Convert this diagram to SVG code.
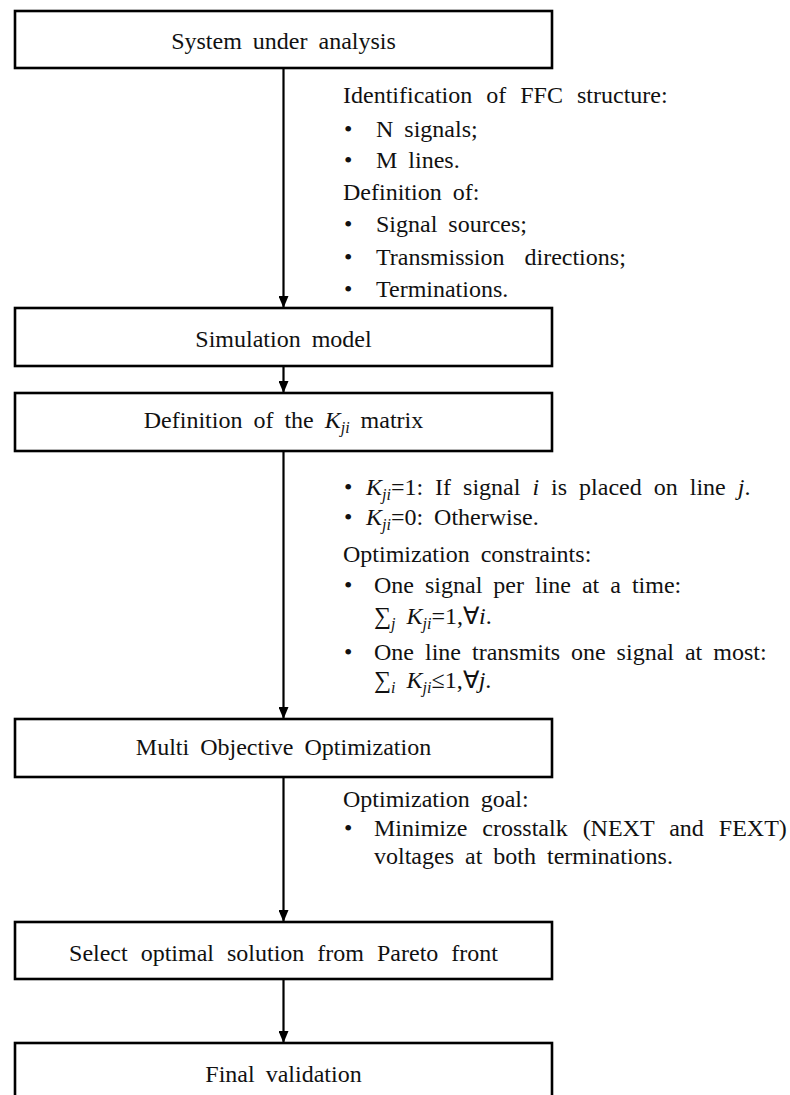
<svg xmlns="http://www.w3.org/2000/svg" width="790" height="1095" viewBox="0 0 790 1095">
<style>
.box{fill:#fff;stroke:#000;stroke-width:2.6}
.t{font-family:"Liberation Serif","Times New Roman",serif;font-size:24px;fill:#111;word-spacing:5px}
.c{text-anchor:middle}
.i{font-style:italic}
.s{font-size:16px;font-style:italic}
.conn line{stroke:#000;stroke-width:2.2}
</style>
<defs>
<marker id="ah" markerUnits="userSpaceOnUse" markerWidth="12" markerHeight="10" viewBox="0 0 12 10" refX="12" refY="5" orient="auto">
<path d="M0,0 L12,5 L0,10 z" fill="#000"/>
</marker>
</defs>
<rect width="790" height="1095" fill="#fff"/>
<g id="connectors" class="conn">
<line x1="283.5" y1="68" x2="283.5" y2="308" marker-end="url(#ah)"/>
<line x1="283.5" y1="366" x2="283.5" y2="393" marker-end="url(#ah)"/>
<line x1="283.5" y1="451" x2="283.5" y2="719" marker-end="url(#ah)"/>
<line x1="283.5" y1="777" x2="283.5" y2="922" marker-end="url(#ah)"/>
<line x1="283.5" y1="979" x2="283.5" y2="1043" marker-end="url(#ah)"/>
</g>
<g id="n1"><rect class="box" x="15" y="11" width="537" height="57"/><text class="t c" x="283.5" y="49">System under analysis</text></g>
<g id="n2"><rect class="box" x="15" y="308" width="537" height="58"/><text class="t c" x="283.5" y="347">Simulation model</text></g>
<g id="n3"><rect class="box" x="15" y="393" width="537" height="58"/><text class="t c" x="283.5" y="428">Definition of the <tspan class="i">K</tspan><tspan class="s" dy="5">ji</tspan><tspan dy="-5"> matrix</tspan></text></g>
<g id="n4"><rect class="box" x="15" y="719" width="537" height="58"/><text class="t c" x="283.5" y="755">Multi Objective Optimization</text></g>
<g id="n5"><rect class="box" x="15" y="922" width="537" height="57"/><text class="t c" x="283.5" y="961" style="word-spacing:7px">Select optimal solution from Pareto front</text></g>
<g id="n6"><rect class="box" x="15" y="1043" width="537" height="60"/><text class="t c" x="283.5" y="1082">Final validation</text></g>
<g id="notes1">
<text class="t" x="343" y="103" style="word-spacing:8px">Identification of FFC structure:</text>
<text class="t" x="344" y="137">•</text><text class="t" x="376" y="137">N signals;</text>
<text class="t" x="344" y="168">•</text><text class="t" x="376" y="168">M lines.</text>
<text class="t" x="343" y="200">Definition of:</text>
<text class="t" x="344" y="232">•</text><text class="t" x="376" y="232">Signal sources;</text>
<text class="t" x="344" y="265">•</text><text class="t" x="376" y="265" style="word-spacing:14px">Transmission directions;</text>
<text class="t" x="344" y="297">•</text><text class="t" x="376" y="297">Terminations.</text>
</g>
<g id="notes2">
<text class="t" x="344" y="495">•</text><text class="t" x="366" y="495" style="word-spacing:6px"><tspan class="i">K</tspan><tspan class="s" dy="5">ji</tspan><tspan dy="-5">=1: If signal </tspan><tspan class="i">i</tspan><tspan> is placed on line </tspan><tspan class="i">j</tspan><tspan>.</tspan></text>
<text class="t" x="344" y="525">•</text><text class="t" x="366" y="525"><tspan class="i">K</tspan><tspan class="s" dy="5">ji</tspan><tspan dy="-5">=0: Otherwise.</tspan></text>
<text class="t" x="343" y="562">Optimization constraints:</text>
<text class="t" x="344" y="593">•</text><text class="t" x="374" y="593">One signal per line at a time:</text>
<text class="t" x="374" y="624">∑<tspan class="s" dy="5">j</tspan><tspan class="i" dy="-5"> K</tspan><tspan class="s" dy="5">ji</tspan><tspan dy="-5">=1,∀</tspan><tspan class="i">i</tspan><tspan>.</tspan></text>
<text class="t" x="344" y="660">•</text><text class="t" x="374" y="660">One line transmits one signal at most:</text>
<text class="t" x="374" y="688">∑<tspan class="s" dy="5">i</tspan><tspan class="i" dy="-5"> K</tspan><tspan class="s" dy="5">ji</tspan><tspan dy="-5">≤1,∀</tspan><tspan class="i">j</tspan><tspan>.</tspan></text>
</g>
<g id="notes3">
<text class="t" x="343" y="807">Optimization goal:</text>
<text class="t" x="344" y="836">•</text><text class="t" x="374" y="836" style="word-spacing:9px">Minimize crosstalk (NEXT and FEXT)</text>
<text class="t" x="374" y="864">voltages at both terminations.</text>
</g>
</svg>
